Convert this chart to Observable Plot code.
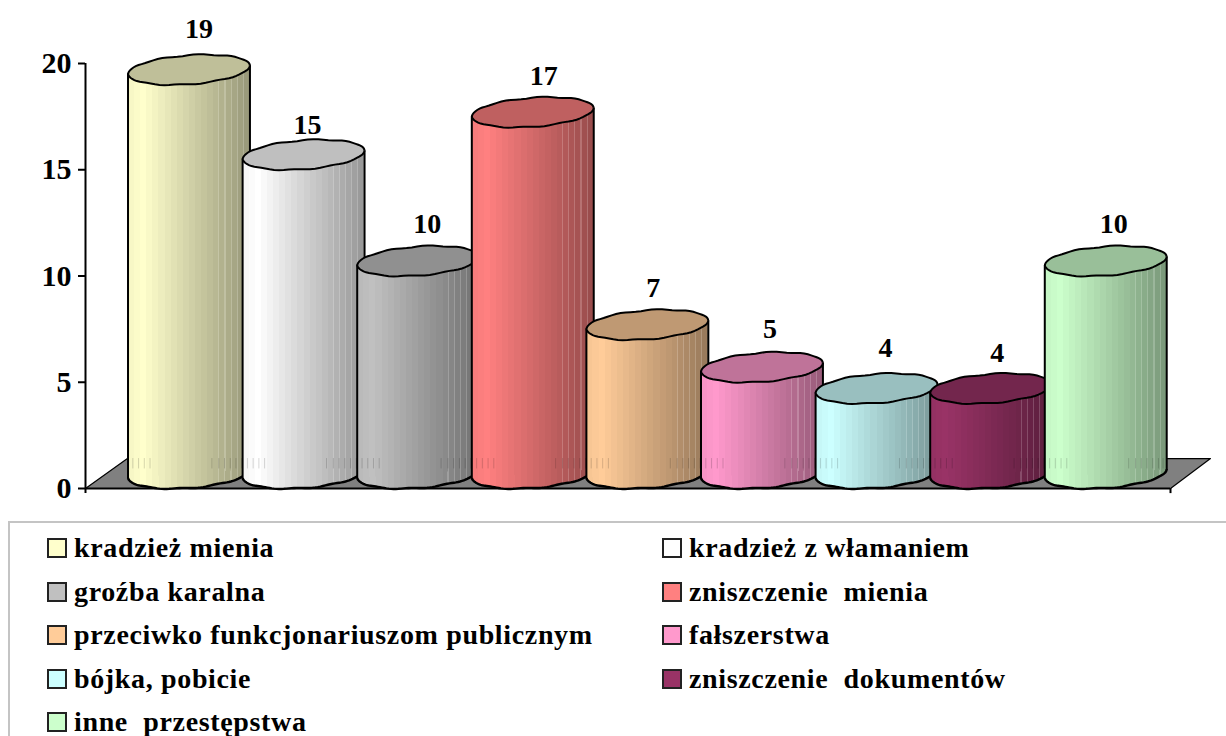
<!DOCTYPE html>
<html lang="pl">
<head>
<meta charset="utf-8">
<script src="https://cdn.jsdelivr.net/npm/d3@7"></script>
<script src="https://cdn.jsdelivr.net/npm/@observablehq/plot@0.6"></script>
<style>
  html, body { margin: 0; padding: 0; background: #fff; overflow: hidden; }
  #chart svg { display: block; }
  #legend {
    position: relative; box-sizing: border-box; margin-left: 8px; height: 215px;
    border-top: 2px solid #c4c4c4; border-left: 2px solid #c4c4c4;
    font: bold 28px "Liberation Serif", serif; color: #000;
  }
  .entry { position: absolute; display: flex; align-items: center; white-space: pre; height: 30px; letter-spacing: 0.65px; }
  .swatch { width: 16px; height: 16px; border: 2px solid #222; margin-right: 7px; flex: none; }
</style>
</head>
<body>
<div id="chart"></div>
<div id="legend"></div>
<script>
const categories = [
  "kradzież mienia", "kradzież z włamaniem", "groźba karalna", "zniszczenie  mienia",
  "przeciwko funkcjonariuszom publicznym", "fałszerstwa", "bójka, pobicie",
  "zniszczenie  dokumentów", "inne  przestępstwa"
];
const counts = [19, 15, 10, 17, 7, 5, 4, 4, 10];
const colors = ["#FFFFCC", "#FFFFFF", "#C0C0C0", "#FF8080", "#FFCC99", "#FF99CC", "#CCFFFF", "#993366", "#CCFFCC"];
const yTicks = [0, 5, 10, 15, 20];
const labelLift = [41, 30, 37, 36, 37, 38, 40, 35, 37];
const labelShift = [10, 4, 9, 11, 6, 8, 9, 6, 8];

// Chart geometry, in scale units / pixels
const xLeft = -0.403, xRight = 9.065;
const halfWidth = 0.532, tilt = 0.2;
const floorDepthX = [0.366, 0.349], floorDepthY = 1.41;
const depthY = 15;
const font = "Liberation Serif";
const hatch = [-0.49, -0.44, -0.39, -0.34, 0.2, 0.26, 0.31, 0.36, 0.41, 0.46, 0.5];

function shade(color, k) {
  const c = d3.rgb(color);
  return d3.rgb(c.r * k, c.g * k, c.b * k).formatHex();
}

// Stepped left-to-right shading, like the banded cylinder of the original
function gradientDefs() {
  const defs = d3.create("svg:defs");
  colors.forEach((color, i) => {
    const g = defs.append("linearGradient").attr("id", `cyl${i}`).attr("x1", 0).attr("x2", 1).attr("y1", 0).attr("y2", 0);
    const tone = t => t < 0.1 ? 0.97 + 0.3 * t : 1 - 0.42 * (t - 0.1) / 0.9;
    const step = 0.05;
    for (let t = 0; t < 1; t += step) {
      const stripe = t > 0.68;
      const end = t + step;
      const c = shade(color, tone(t));
      g.append("stop").attr("offset", t).attr("stop-color", c);
      if (stripe) {
        const mid = t + step * 0.82;
        g.append("stop").attr("offset", mid).attr("stop-color", c);
        const light = d3.interpolateRgb(c, "#ffffff")(0.18);
        g.append("stop").attr("offset", mid).attr("stop-color", light);
        g.append("stop").attr("offset", end).attr("stop-color", light);
      } else {
        g.append("stop").attr("offset", end).attr("stop-color", c);
      }
    }
  });
  return defs.node();
}

// Tilted, slightly uneven ellipse: the whole rim or only its lower half
function rim(from, to) {
  const rx = 61, ry = 14.5, phi = -4.2 * Math.PI / 180, n = 72;
  return {
    draw(ctx) {
      for (let k = 0; k <= n; k++) {
        const t = from + (to - from) * k / n;
        const wob = 0.55 * Math.sin(10 * t) * Math.abs(Math.sin(t));
        const ex = rx * Math.cos(t), ey = ry * Math.sin(t) + wob;
        const x = ex * Math.cos(phi) - ey * Math.sin(phi);
        const y = ex * Math.sin(phi) + ey * Math.cos(phi);
        k ? ctx.lineTo(x, y) : ctx.moveTo(x, y);
      }
    }
  };
}
const capSymbol = rim(0, 2 * Math.PI);
const baseSymbol = rim(0, Math.PI);

const floorPts = [
  {x: xLeft, y: 0},
  {x: xLeft + floorDepthX[0], y: floorDepthY},
  {x: xRight + floorDepthX[1], y: floorDepthY},
  {x: xRight, y: 0},
  {x: xLeft, y: 0}
];

const cylinders = categories.flatMap((name, i) => {
  const cx = i + 0.5, v = counts[i];
  const body = [
    {x: cx - halfWidth, y: -tilt},
    {x: cx - halfWidth, y: v - tilt},
    {x: cx + halfWidth, y: v + tilt},
    {x: cx + halfWidth, y: tilt}
  ];
  return [
    Plot.dot([0], {x: () => cx, y: () => 0, dy: -depthY, r: 5, symbol: capSymbol, fill: `url(#cyl${i})`, stroke: "none"}),
    Plot.line(body, {x: "x", y: "y", dy: -depthY, fill: `url(#cyl${i})`, stroke: "#000", strokeWidth: 2, curve: "linear"}),
    Plot.ruleX(hatch, {x: d => cx + d, y1: 0.92, y2: 1.41, stroke: "#000", strokeOpacity: 0.16, strokeWidth: 1}),
    Plot.dot([0], {x: () => cx, y: () => 0, dy: -depthY, r: 5, symbol: baseSymbol, fill: "none", stroke: "#000", strokeWidth: 2.4}),
    Plot.dot([v], {x: () => cx, y: d => d, dy: -depthY, r: 5, symbol: capSymbol, fill: shade(colors[i], 0.75), stroke: "#000", strokeWidth: 2})
  ];
});

const labels = categories.map((name, i) =>
  Plot.text([counts[i]], {
    x: () => i + 0.5, y: d => d, text: d => String(d),
    dx: labelShift[i], dy: -depthY - labelLift[i],
    fontSize: 28, fontWeight: "bold", fontFamily: font, fill: "#000"
  })
);

const chart = Plot.plot({
  width: 1226, height: 521,
  marginLeft: 85, marginRight: 56, marginTop: 63, marginBottom: 33,
  style: {background: "#fff", color: "#000", overflow: "visible"},
  x: {domain: [xLeft, xRight], axis: null},
  y: {domain: [0, 20]},
  marks: [
    gradientDefs,
    Plot.line(floorPts, {x: "x", y: "y", fill: "#808080", stroke: "#000", strokeWidth: 1.2, curve: "linear"}),
    Plot.ruleY([0], {x1: xLeft, x2: xRight, stroke: "#000", strokeWidth: 2}),
    Plot.ruleX([xLeft, xRight], {y1: -0.24, y2: d => d === xLeft ? 20 : 0, stroke: "#000", strokeWidth: 2}),
    Plot.axisY(yTicks, {
      anchor: "left", x: xLeft, ticks: yTicks, tickSize: 7, tickPadding: 7, label: null,
      stroke: "#000", strokeWidth: 2, fontSize: 30, fontWeight: "bold", fontFamily: font, fill: "#000", tickFormat: d => d
    }),
    ...cylinders,
    ...labels
  ]
});
document.getElementById("chart").append(chart);

const legend = document.getElementById("legend");
categories.forEach((name, i) => {
  const e = document.createElement("div");
  e.className = "entry";
  e.style.left = (i % 2 ? 652 : 37) + "px";
  e.style.top = (10 + Math.floor(i / 2) * 43.6) + "px";
  const s = document.createElement("span");
  s.className = "swatch";
  s.style.background = colors[i];
  e.append(s, document.createTextNode(name));
  legend.append(e);
});
</script>
</body>
</html>
